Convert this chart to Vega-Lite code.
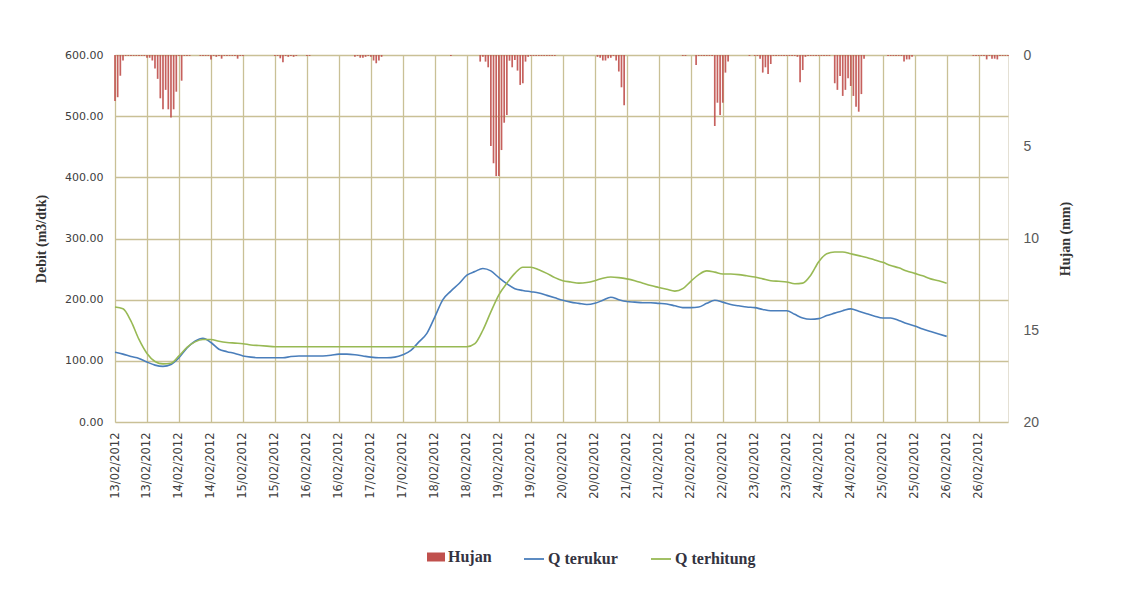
{
  "$schema": "https://vega.github.io/schema/vega-lite/v6.json",
  "width": 893,
  "height": 367,
  "autosize": {"type": "none"},
  "padding": {"left": 115, "top": 55, "right": 114, "bottom": 188},
  "background": "white",
  "config": {
    "view": {"stroke": "#e4e0d4", "strokeWidth": 1},
    "axis": {"domain": false, "ticks": false, "gridColor": "#c9c096", "gridWidth": 1.3, "gridOpacity": 1},
    "axisX": {"gridColor": "#c9c096"},
    "axisY": {"gridColor": "#c9c096"}
  },
  "datasets": {
    "hujan": [
      {"h":0,"mm":2.5},{"h":1,"mm":2.3},{"h":2,"mm":1.13},{"h":3,"mm":0.3},{"h":4,"mm":0.05},{"h":5,"mm":0.05},{"h":6,"mm":0.05},{"h":7,"mm":0.05},{"h":8,"mm":0.05},{"h":9,"mm":0.05},{"h":10,"mm":0.05},{"h":11,"mm":0.05},
      {"h":12,"mm":0.15},{"h":13,"mm":0.15},{"h":14,"mm":0.3},{"h":15,"mm":0.73},{"h":16,"mm":1.3},{"h":17,"mm":2.36},{"h":18,"mm":2.96},{"h":19,"mm":1.9},{"h":20,"mm":2.96},{"h":21,"mm":3.4},{"h":22,"mm":2.96},{"h":23,"mm":2.0},{"h":24,"mm":0.05},{"h":25,"mm":1.4},{"h":26,"mm":0.05},{"h":27,"mm":0.05},{"h":28,"mm":0.05},
      {"h":32,"mm":0.05},{"h":33,"mm":0.05},{"h":34,"mm":0.05},{"h":35,"mm":0.05},{"h":36,"mm":0.24},{"h":37,"mm":0.05},{"h":38,"mm":0.1},{"h":39,"mm":0.05},{"h":40,"mm":0.2},{"h":41,"mm":0.05},{"h":42,"mm":0.05},{"h":43,"mm":0.05},{"h":44,"mm":0.05},{"h":45,"mm":0.05},{"h":46,"mm":0.2},{"h":47,"mm":0.05},{"h":48,"mm":0.05},
      {"h":60,"mm":0.05},{"h":61,"mm":0.05},{"h":62,"mm":0.18},{"h":63,"mm":0.4},{"h":64,"mm":0.05},{"h":65,"mm":0.1},{"h":66,"mm":0.05},{"h":67,"mm":0.1},{"h":68,"mm":0.05},
      {"h":72,"mm":0.05},{"h":73,"mm":0.05},
      {"h":90,"mm":0.1},{"h":91,"mm":0.05},{"h":92,"mm":0.15},{"h":93,"mm":0.15},{"h":94,"mm":0.1},{"h":95,"mm":0.05},{"h":96,"mm":0.1},{"h":97,"mm":0.3},{"h":98,"mm":0.45},{"h":99,"mm":0.3},{"h":100,"mm":0.1},
      {"h":126,"mm":0.05},
      {"h":137,"mm":0.36},{"h":138,"mm":0.1},{"h":139,"mm":0.36},{"h":140,"mm":0.67},{"h":141,"mm":4.96},{"h":142,"mm":5.9},{"h":143,"mm":6.6},{"h":144,"mm":6.6},{"h":145,"mm":5.18},{"h":146,"mm":3.69},{"h":147,"mm":3.27},{"h":148,"mm":0.31},{"h":149,"mm":0.67},{"h":150,"mm":0.27},{"h":151,"mm":0.85},{"h":152,"mm":1.63},{"h":153,"mm":1.54},{"h":154,"mm":0.36},{"h":155,"mm":0.1},
      {"h":156,"mm":0.05},{"h":157,"mm":0.05},{"h":158,"mm":0.05},{"h":159,"mm":0.05},{"h":160,"mm":0.05},{"h":161,"mm":0.05},{"h":162,"mm":0.05},{"h":163,"mm":0.05},{"h":164,"mm":0.05},{"h":165,"mm":0.05},
      {"h":181,"mm":0.1},{"h":182,"mm":0.15},{"h":183,"mm":0.3},{"h":184,"mm":0.3},{"h":185,"mm":0.18},{"h":186,"mm":0.15},{"h":187,"mm":0.05},{"h":188,"mm":0.3},{"h":189,"mm":0.9},{"h":190,"mm":1.76},{"h":191,"mm":2.74},
      {"h":213,"mm":0.05},{"h":214,"mm":0.05},{"h":218,"mm":0.55},{"h":219,"mm":0.05},{"h":220,"mm":0.05},{"h":221,"mm":0.05},{"h":222,"mm":0.05},{"h":223,"mm":0.05},{"h":224,"mm":0.05},{"h":225,"mm":3.87},{"h":226,"mm":2.6},{"h":227,"mm":3.27},{"h":228,"mm":2.6},{"h":229,"mm":0.96},{"h":230,"mm":0.36},
      {"h":238,"mm":0.05},{"h":240,"mm":0.05},{"h":241,"mm":0.05},{"h":242,"mm":0.2},{"h":243,"mm":0.96},{"h":244,"mm":0.67},{"h":245,"mm":1.04},{"h":246,"mm":0.49},{"h":247,"mm":0.05},{"h":248,"mm":0.05},{"h":249,"mm":0.05},{"h":250,"mm":0.05},{"h":251,"mm":0.05},{"h":252,"mm":0.05},{"h":253,"mm":0.05},{"h":254,"mm":0.05},{"h":255,"mm":0.05},{"h":256,"mm":0.1},{"h":257,"mm":1.49},{"h":258,"mm":0.82},{"h":259,"mm":0.1},
      {"h":260,"mm":0.05},{"h":261,"mm":0.05},{"h":262,"mm":0.05},{"h":263,"mm":0.05},{"h":264,"mm":0.05},{"h":265,"mm":0.05},{"h":266,"mm":0.05},{"h":267,"mm":0.05},{"h":268,"mm":0.05},
      {"h":270,"mm":1.54},{"h":271,"mm":1.9},{"h":272,"mm":1.14},{"h":273,"mm":2.23},{"h":274,"mm":1.9},{"h":275,"mm":1.27},{"h":276,"mm":1.69},{"h":277,"mm":2.23},{"h":278,"mm":2.82},{"h":279,"mm":3.09},{"h":280,"mm":2.13},{"h":281,"mm":0.2},
      {"h":290,"mm":0.05},{"h":291,"mm":0.05},{"h":292,"mm":0.05},{"h":293,"mm":0.05},{"h":294,"mm":0.05},{"h":295,"mm":0.05},{"h":296,"mm":0.36},{"h":297,"mm":0.24},{"h":298,"mm":0.24},{"h":299,"mm":0.1},
      {"h":322,"mm":0.05},{"h":323,"mm":0.05},{"h":324,"mm":0.05},{"h":325,"mm":0.05},{"h":326,"mm":0.05},{"h":327,"mm":0.24},{"h":328,"mm":0.05},{"h":329,"mm":0.2},{"h":330,"mm":0.2},{"h":331,"mm":0.24},{"h":332,"mm":0.05},{"h":333,"mm":0.05},{"h":334,"mm":0.05},{"h":335,"mm":0.05}
    ],
    "q": [
      {"h":0,"qt":114,"qh":188},{"h":3,"qt":111,"qh":185},{"h":6,"qt":107,"qh":165},{"h":9,"qt":104,"qh":135},{"h":12,"qt":98,"qh":112},{"h":15,"qt":93,"qh":99},{"h":18,"qt":91,"qh":95},{"h":21,"qt":94,"qh":96},{"h":24,"qt":105,"qh":108},{"h":27,"qt":121,"qh":122},{"h":30,"qt":132,"qh":131},{"h":33,"qt":137,"qh":135},{"h":36,"qt":130,"qh":135},{"h":39,"qt":119,"qh":132},{"h":42,"qt":115,"qh":130},{"h":45,"qt":112,"qh":129},{"h":48,"qt":108,"qh":128},{"h":51,"qt":106,"qh":126},{"h":54,"qt":105,"qh":125},{"h":57,"qt":105,"qh":124},
      {"h":60,"qt":105,"qh":123},{"h":63,"qt":105,"qh":123},{"h":66,"qt":107,"qh":123},{"h":69,"qt":108,"qh":123},{"h":72,"qt":108,"qh":123},{"h":75,"qt":108,"qh":123},{"h":78,"qt":108,"qh":123},{"h":81,"qt":109,"qh":123},{"h":84,"qt":111,"qh":123},{"h":87,"qt":111,"qh":123},{"h":90,"qt":110,"qh":123},{"h":93,"qt":108,"qh":123},{"h":96,"qt":106,"qh":123},{"h":99,"qt":105,"qh":123},{"h":102,"qt":105,"qh":123},{"h":105,"qt":106,"qh":123},{"h":108,"qt":110,"qh":123},{"h":111,"qt":117,"qh":123},{"h":114,"qt":131,"qh":123},{"h":117,"qt":145,"qh":123},
      {"h":120,"qt":172,"qh":123},{"h":123,"qt":200,"qh":123},{"h":126,"qt":214,"qh":123},{"h":129,"qt":226,"qh":123},{"h":132,"qt":240,"qh":123},{"h":135,"qt":246,"qh":128},{"h":138,"qt":251,"qh":150},{"h":141,"qt":247,"qh":180},{"h":144,"qt":236,"qh":208},{"h":147,"qt":226,"qh":227},{"h":150,"qt":218,"qh":243},{"h":153,"qt":215,"qh":253},{"h":156,"qt":213,"qh":253},{"h":159,"qt":211,"qh":249},{"h":162,"qt":207,"qh":243},{"h":165,"qt":203,"qh":236},{"h":168,"qt":199,"qh":231},{"h":171,"qt":196,"qh":229},{"h":174,"qt":194,"qh":227},{"h":177,"qt":192,"qh":228},
      {"h":180,"qt":194,"qh":231},{"h":183,"qt":199,"qh":235},{"h":186,"qt":204,"qh":237},{"h":189,"qt":200,"qh":236},{"h":192,"qt":197,"qh":234},{"h":195,"qt":196,"qh":231},{"h":198,"qt":195,"qh":227},{"h":201,"qt":195,"qh":223},{"h":204,"qt":194,"qh":220},{"h":207,"qt":193,"qh":217},{"h":210,"qt":190,"qh":214},{"h":213,"qt":187,"qh":218},{"h":216,"qt":187,"qh":230},{"h":219,"qt":188,"qh":241},{"h":222,"qt":194,"qh":247},{"h":225,"qt":199,"qh":245},{"h":228,"qt":196,"qh":242},{"h":231,"qt":192,"qh":242},{"h":234,"qt":190,"qh":241},{"h":237,"qt":188,"qh":239},
      {"h":240,"qt":187,"qh":237},{"h":243,"qt":184,"qh":234},{"h":246,"qt":182,"qh":231},{"h":249,"qt":182,"qh":230},{"h":252,"qt":182,"qh":229},{"h":255,"qt":176,"qh":226},{"h":258,"qt":170,"qh":227},{"h":261,"qt":168,"qh":240},{"h":264,"qt":169,"qh":262},{"h":267,"qt":174,"qh":275},{"h":270,"qt":178,"qh":278},{"h":273,"qt":182,"qh":278},{"h":276,"qt":185,"qh":275},{"h":279,"qt":181,"qh":272},{"h":282,"qt":177,"qh":269},{"h":285,"qt":173,"qh":265},{"h":288,"qt":170,"qh":261},{"h":291,"qt":170,"qh":256},{"h":294,"qt":166,"qh":252},{"h":297,"qt":161,"qh":247},
      {"h":300,"qt":157,"qh":243},{"h":303,"qt":152,"qh":239},{"h":306,"qt":148,"qh":234},{"h":309,"qt":144,"qh":231},{"h":312,"qt":140,"qh":227}
    ]
  },
  "encoding": {
    "x": {
      "field": "h", "type": "quantitative",
      "scale": {"domain": [0, 335], "nice": false, "zero": false, "padding": 0},
      "axis": {
        "values": [0,12,24,36,48,60,72,84,96,108,120,132,144,156,168,180,192,204,216,228,240,252,264,276,288,300,312,324],
        "labelExpr": "timeFormat(datetime(2012, 1, 13 + floor(datum.value / 24)), '%d/%m/%Y')",
        "labelAngle": 270, "labelFont": "DejaVu Sans", "labelFontSize": 11.5, "labelColor": "#404040",
        "labelPadding": 10, "labelOverlap": false, "labelBound": false, "labelFlush": false,
        "grid": true, "gridColor": "#c9c096", "gridWidth": 1.3, "title": null
      }
    }
  },
  "layer": [
    {
      "data": {"name": "hujan"},
      "mark": {"type": "bar", "size": 1.7, "opacity": 0.9},
      "encoding": {
        "y": {
          "field": "mm", "type": "quantitative",
          "scale": {"domain": [0, 20], "reverse": true, "nice": false},
          "axis": {
            "orient": "right", "values": [0,5,10,15,20], "grid": false,
            "labelFont": "Liberation Sans", "labelFontSize": 14, "labelColor": "#595959", "labelPadding": 15,
            "title": "Hujan (mm)", "titleAngle": 270, "titleFont": "Liberation Serif", "titleFontSize": 14, "titleFontWeight": "bold", "titleColor": "#333333", "titlePadding": 34
          }
        },
        "fill": {
          "datum": "Hujan",
          "scale": {"domain": ["Hujan"], "range": ["#c0504d"]},
          "legend": {
            "orient": "none", "legendX": 312, "legendY": 493, "direction": "horizontal", "title": null,
            "labelFont": "Liberation Serif", "labelFontSize": 16, "labelFontWeight": "bold", "labelColor": "#333340",
            "symbolType": "M-1,-0.5H1V0.5H-1Z", "symbolSize": 324, "symbolStrokeWidth": 0, "symbolOpacity": 1, "labelOffset": 3
          }
        }
      }
    },
    {
      "data": {"name": "q"},
      "layer": [
        {
          "mark": {"type": "line", "strokeWidth": 1.6, "interpolate": "monotone"},
          "encoding": {
            "y": {
              "field": "qt", "type": "quantitative",
              "scale": {"domain": [0, 600], "nice": false},
              "axis": {
                "orient": "left", "values": [0,50,100,150,200,250,300,350,400,450,500,550,600], "format": ".2f",
                "grid": true, "gridColor": "#c9c096", "gridWidth": 1.3,
                "labelFont": "DejaVu Sans", "labelFontSize": 11, "labelColor": "#404040", "labelPadding": 12,
                "title": "Debit (m3/dtk)", "titleFont": "Liberation Serif", "titleFontSize": 14, "titleFontWeight": "bold", "titleColor": "#333333", "titlePadding": 16
              }
            },
            "stroke": {
              "datum": "Q terukur",
              "scale": {"domain": ["Q terukur", "Q terhitung"], "range": ["#4a7ebb", "#98b954"]},
              "legend": {
                "orient": "none", "legendX": 408, "legendY": 493, "direction": "horizontal", "title": null,
                "labelFont": "Liberation Serif", "labelFontSize": 16, "labelFontWeight": "bold", "labelColor": "#333340",
                "symbolType": "stroke", "symbolSize": 400, "symbolStrokeWidth": 1.8, "columnPadding": 29, "labelOffset": 3
              }
            }
          }
        },
        {
          "mark": {"type": "line", "strokeWidth": 1.6, "interpolate": "monotone"},
          "encoding": {
            "y": {"field": "qh", "type": "quantitative"},
            "stroke": {"datum": "Q terhitung"}
          }
        }
      ]
    }
  ],
  "resolve": {"scale": {"y": "independent"}}
}
